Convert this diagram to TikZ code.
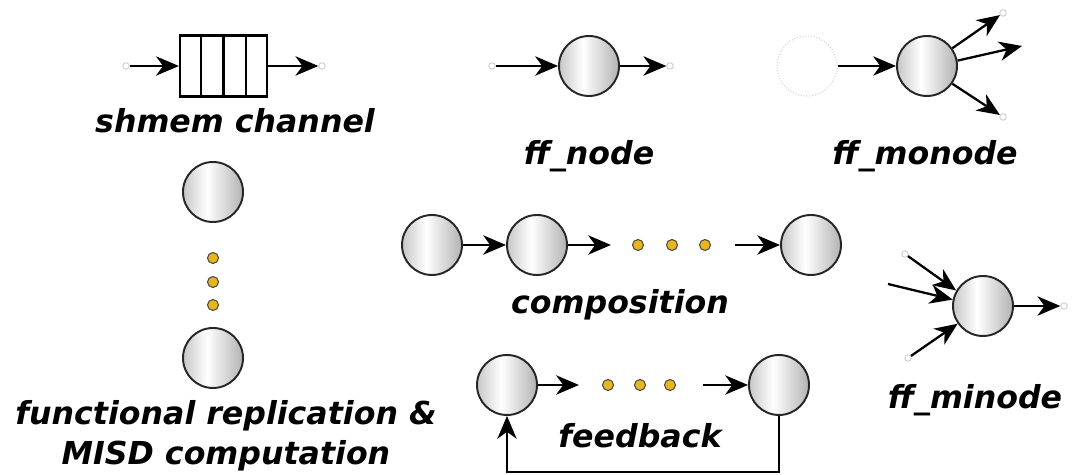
\documentclass[tikz,border=0pt]{standalone}
\usepackage{fontspec}
\setmainfont{DejaVu Sans}
\usetikzlibrary{arrows.meta,calc}
\definecolor{dotyellow}{HTML}{E8B51C}
\pgfdeclarehorizontalshading{ballshade}{100bp}{color(0bp)=(black!22); color(25bp)=(black!22); color(45bp)=(white); color(75bp)=(black!30); color(100bp)=(black!30)}
\tikzset{
  proc/.style={circle,draw=black!85,line width=1.1pt,minimum size=1.2cm,inner sep=0pt,
    shading=ballshade},
  ghost/.style={circle,draw=gray!35,densely dotted,line width=0.6pt,minimum size=1.2cm,inner sep=0pt},
  endpt/.style={circle,draw=gray!40,fill=white,line width=0.5pt,minimum size=0.13cm,inner sep=0pt},
  dotnode/.style={circle,draw=black!70,fill=dotyellow,line width=0.6pt,minimum size=0.22cm,inner sep=0pt},
  arr/.style={-{Stealth[length=13pt,width=11pt,inset=4pt]},line width=1.3pt},
  lbl/.style={font=\fontsize{18}{23}\selectfont\bfseries\itshape,align=center,inner sep=0pt},
  queue/.style={rectangle,draw,line width=1.3pt,minimum width=1.74cm,minimum height=1.22cm,inner sep=0pt}
}
\begin{document}
\begin{tikzpicture}[x=0.02cm,y=-0.02cm]
\useasboundingbox (0,0) rectangle (1080,475);
% shmem channel
\node[queue] (q) at (223.5,66) {};
\foreach \f in {0.25,0.5,0.75}{
  \draw[line width=1.3pt] ($(q.north west)!\f!(q.north east)$) -- ($(q.south west)!\f!(q.south east)$);
}
\node[endpt] (qin) at (126,66) {};
\node[endpt] (qout) at (322,66) {};
\draw[arr] (qin) -- (q);
\draw[arr] (q) -- (qout);
\node[lbl] (lq) at (235,121) {shmem channel};
% ff_node
\node[proc] (n) at (589,66) {};
\node[endpt] (nin) at (492,66) {};
\node[endpt] (nout) at (670,66) {};
\draw[arr] (nin) -- (n);
\draw[arr] (n) -- (nout);
\node[lbl] (ln) at (589,156) {ff\_node};
% ff_monode
\node[ghost] (mg) at (807,66) {};
\node[proc] (m) at (927,66) {};
\node[endpt] (mo1) at (1003,13) {};
\coordinate (mo2) at (1022,46);
\node[endpt] (mo3) at (1003,117) {};
\draw[arr] (mg) -- (m);
\draw[arr] (m.35) -- (mo1);
\draw[arr] (m.10) -- (mo2);
\draw[arr] (m.-35) -- (mo3);
\node[lbl] (lm) at (925,156) {ff\_monode};
% replication
\node[proc] (r1) at (213,192) {};
\node[proc] (r2) at (213,358) {};
\node[dotnode] (rd1) at (213,258) {};
\node[dotnode] (rd2) at (213,282) {};
\node[dotnode] (rd3) at (213,305) {};
\node[lbl] (lr) at (226,436) {functional replication \&\\MISD computation};
% composition
\node[proc] (c1) at (432,245) {};
\node[proc] (c2) at (537,245) {};
\node[proc] (c3) at (811,245) {};
\node[dotnode] (cd1) at (638,245) {};
\node[dotnode] (cd2) at (672,245) {};
\node[dotnode] (cd3) at (705,245) {};
\coordinate (ca) at (611,245);
\coordinate (cb) at (735,245);
\draw[arr] (c1) -- (c2);
\draw[arr] (c2) -- (ca);
\draw[arr] (cb) -- (c3);
\node[lbl] (lc) at (620,305) {composition};
% ff_minode
\node[proc] (mi) at (983,306) {};
\node[endpt] (mi1) at (905,254) {};
\coordinate (mi2) at (888,284);
\node[endpt] (mi3) at (908,358) {};
\node[endpt] (miout) at (1064,306) {};
\draw[arr] (mi1) -- (mi.150);
\draw[arr] (mi2) -- (mi.168);
\draw[arr] (mi3) -- (mi.215);
\draw[arr] (mi) -- (miout);
\node[lbl] (lmi) at (975,400) {ff\_minode};
% feedback
\node[proc] (f1) at (507,385) {};
\node[proc] (f2) at (779,385) {};
\node[dotnode] (fd1) at (608,385) {};
\node[dotnode] (fd2) at (640,385) {};
\node[dotnode] (fd3) at (670,385) {};
\coordinate (fa) at (579,385);
\coordinate (fb) at (703,385);
\draw[arr] (f1) -- (fa);
\draw[arr] (fb) -- (f2);
\draw[arr] (f2.south) -- ++(0,56) -| (f1.south);
\node[lbl] (lf) at (640,436) {feedback};
\end{tikzpicture}
\end{document}
